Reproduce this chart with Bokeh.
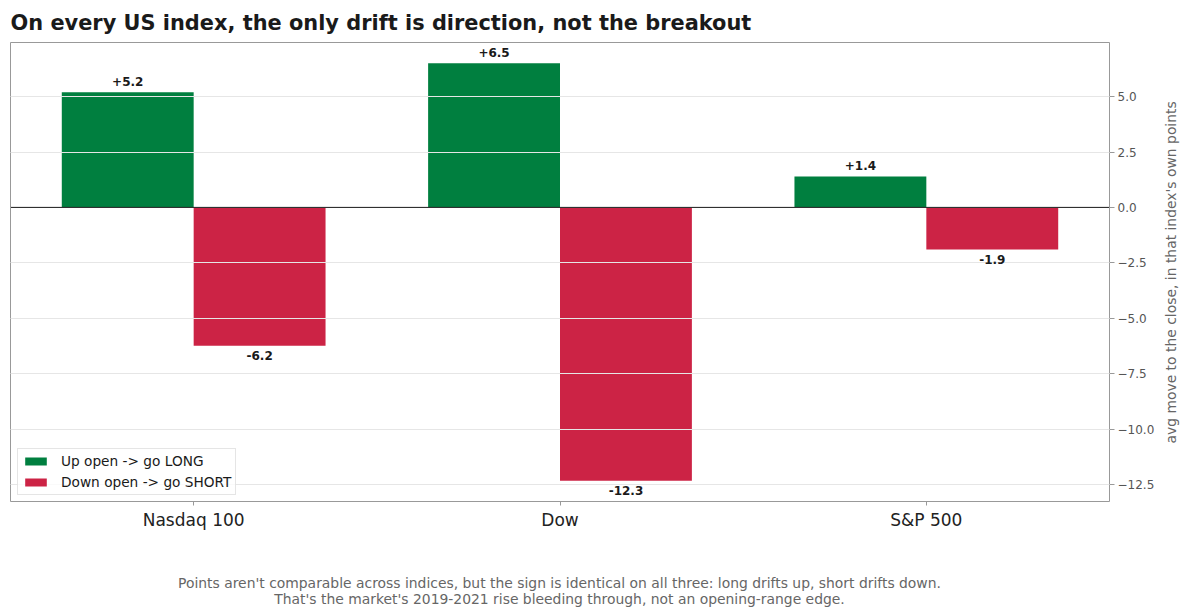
import math
from bokeh.plotting import figure
from bokeh.layouts import column, row
from bokeh.models import (FactorRange, Range1d, FixedTicker, CustomJSTickFormatter,
                          Span, ColumnDataSource)
from bokeh.transform import dodge
from bokeh.core.properties import value
from bokeh.embed import file_html
from bokeh.resources import INLINE

indices = ["Nasdaq 100", "Dow", "S&P 500"]
long_drift = [5.2, 6.5, 1.4]
short_drift = [-6.24, -12.33, -1.9]
y_ticks = [-12.5, -10.0, -7.5, -5.0, -2.5, 0.0, 2.5, 5.0]
series_labels = ["Up open -> go LONG", "Down open -> go SHORT"]
title_text = "On every US index, the only drift is direction, not the breakout"
y_label = "avg move to the close, in that index's own points"
footnote = [
    "Points aren't comparable across indices, but the sign is identical on all three: long drifts up, short drifts down.",
    "That's the market's 2019-2021 rise bleeding through, not an opening-range edge.",
]

GREEN = "#007f3f"
RED = "#cc2345"
FONT = "DejaVu Sans"

lo = min(short_drift)
hi = max(long_drift)
pad = 0.05 * (hi - lo)
y0, y1 = lo - pad, hi + pad

TOTAL_W, TOTAL_H = 1189, 615
MAIN_W, MAIN_H = 1159, 551

p = figure(
    x_range=FactorRange(*indices, range_padding=0),
    y_range=Range1d(y0, y1),
    width=MAIN_W, height=MAIN_H,
    output_backend="svg", toolbar_location=None,
    min_border_left=10, min_border_right=50, min_border_top=42, min_border_bottom=50,
    y_axis_location="right",
)
p.background_fill_color = "white"
p.border_fill_color = "white"
p.outline_line_color = "#999999"
p.outline_line_width = 1

src = ColumnDataSource(dict(
    idx=indices, long=long_drift, short=short_drift,
    long_t=[f"{v:+.1f}" for v in long_drift],
    short_t=[f"{v:+.1f}" for v in short_drift],
))

p.vbar(x=dodge("idx", -0.18, range=p.x_range), top="long", bottom=0, width=0.36,
       source=src, fill_color=GREEN, line_color=None, legend_label=series_labels[0])
p.vbar(x=dodge("idx", 0.18, range=p.x_range), top=0, bottom="short", width=0.36,
       source=src, fill_color=RED, line_color=None, legend_label=series_labels[1])

t1 = p.text(x=dodge("idx", -0.18, range=p.x_range), y="long", text="long_t", source=src,
            text_align="center", text_baseline="bottom", y_offset=-6,
            text_font=value(FONT), text_font_style="bold", text_font_size="12px",
            text_color="#1a1a1a")
t2 = p.text(x=dodge("idx", 0.18, range=p.x_range), y="short", text="short_t", source=src,
            text_align="center", text_baseline="top", y_offset=5,
            text_font=value(FONT), text_font_style="bold", text_font_size="12px",
            text_color="#1a1a1a")
t1.level = "annotation"
t2.level = "annotation"

# grid above the bars, below labels
p.xgrid.visible = False
p.ygrid.ticker = FixedTicker(ticks=y_ticks)
p.ygrid.grid_line_color = "#e6e6e6"
p.ygrid.grid_line_width = 1
p.ygrid.level = "guide"

zero = Span(location=0, dimension="width", line_color="#1a1a1a", line_width=1, level="annotation")
p.add_layout(zero)

# y axis (right)
ya = p.yaxis[0]
ya.ticker = FixedTicker(ticks=y_ticks)
ya.formatter = CustomJSTickFormatter(code="return tick.toFixed(1).replace('-', '\u2212');")
ya.axis_line_color = None
ya.major_tick_line_color = "#999999"
ya.major_tick_in = 0
ya.major_tick_out = 5
ya.minor_tick_line_color = None
ya.major_label_text_font = FONT
ya.major_label_text_font_size = "12px"
ya.major_label_text_color = "#555555"
ya.major_label_standoff = 3

xa = p.xaxis[0]
xa.axis_line_color = None
xa.major_tick_line_color = "#999999"
xa.major_tick_in = 0
xa.major_tick_out = 4
xa.minor_tick_line_color = None
xa.major_label_text_font = FONT
xa.major_label_text_font_size = "17px"
xa.major_label_text_color = "#222222"
xa.major_label_standoff = 4

# title
p.title.text = title_text
p.title.align = "left"
p.title.text_font = FONT
p.title.text_font_size = "20.9px"
p.title.text_font_style = "bold"
p.title.text_color = "#1a1a1a"
p.title.standoff = 16

lg = p.legend[0]
lg.location = (7, 6)
lg.margin = 0
lg.padding = 4
lg.spacing = 5
lg.glyph_width = 27
lg.glyph_height = 10
lg.label_height = 16
lg.label_standoff = 12
lg.label_text_font = FONT
lg.label_text_font_size = "13.7px"
lg.label_text_color = "#1a1a1a"
lg.border_line_color = "#cccccc"
lg.border_line_width = 1
lg.background_fill_color = "white"
lg.background_fill_alpha = 0.8


def text_panel(w, h):
    f = figure(width=w, height=h, x_range=Range1d(0, w), y_range=Range1d(0, h),
               output_backend="svg", toolbar_location=None, min_border=0,
               x_axis_type=None, y_axis_type=None)
    f.grid.visible = False
    f.outline_line_color = None
    f.background_fill_color = "white"
    f.border_fill_color = "white"
    return f


# right strip: y-axis title reading bottom-to-top
side_w = TOTAL_W - MAIN_W
pr = text_panel(side_w, MAIN_H)
pr.text(x=[11], y=[MAIN_H - 276], text=[y_label], angle=math.pi / 2,
        text_align="center", text_baseline="middle",
        text_font=value(FONT), text_font_size="13.9px", text_color="#666666")

# bottom strip: footnote
foot_h = TOTAL_H - MAIN_H
pf = text_panel(TOTAL_W, foot_h)
pf.text(x=[559, 559], y=[foot_h - (582 - MAIN_H), foot_h - (598 - MAIN_H)], text=footnote,
        text_align="center", text_baseline="middle",
        text_font=value(FONT), text_font_size="13.9px", text_color="#666666")

layout = column(row(p, pr, spacing=0), pf, spacing=0)

open("out.html", "w").write(file_html(layout, INLINE))
